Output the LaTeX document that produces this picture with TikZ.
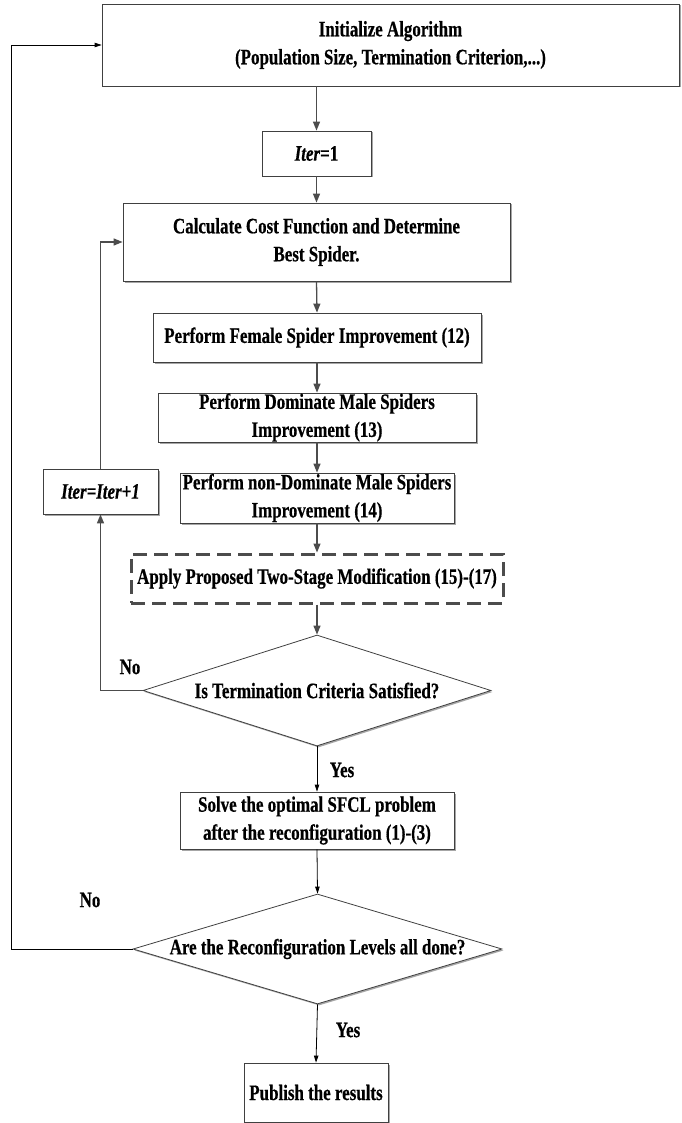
\documentclass[tikz,border=0pt]{standalone}
\usepackage{fontspec}
\setmainfont{Liberation Serif}[FakeStretch=0.77,BoldFeatures={FakeBold=0.5},BoldItalicFeatures={FakeBold=0.5}]
\usetikzlibrary{shapes.geometric,shadows,arrows.meta}
\tikzset{
  shad/.style={drop shadow={shadow xshift=1.5pt,shadow yshift=-1.5pt,fill=black!35,opacity=1}},
  txt/.style={font=\bfseries\fontsize{22}{28}\selectfont},
  box/.style={draw=black!75,line width=0.8pt,fill=white,shad,align=center,inner sep=0pt,txt},
  modbox/.style={draw=black!70,line width=3pt,dash pattern=on 14pt off 7pt,fill=white,
    align=center,inner sep=0pt,txt},
  dia/.style={diamond,draw=black!75,line width=0.8pt,fill=white,shad,align=center,inner sep=0pt,
    aspect=3.1,txt},
  garrow/.style={draw=black!70,line width=1.3pt,-{Triangle[length=9pt,width=7pt]}},
  barrow/.style={draw=black,line width=0.8pt,-{Triangle[length=7pt,width=4.5pt]}},
  lbl/.style={txt,inner sep=0pt}
}
\begin{document}
\begin{tikzpicture}[x=1pt,y=-1pt]
\useasboundingbox (0,0) rectangle (681,1123);
\node[box,minimum width=577pt,minimum height=82pt] (init) at (390.5,45)
  {Initialize Algorithm\\(Population Size, Termination Criterion,...)};
\node[box,minimum width=109pt,minimum height=45pt] (iter1) at (316.5,153.5)
  {\textit{Iter}=1};
\node[box,minimum width=387pt,minimum height=78pt] (calc) at (316.5,242)
  {Calculate Cost Function and Determine\\Best Spider.};
\node[box,minimum width=328pt,minimum height=49pt] (fem) at (317,337.5)
  {Perform Female Spider Improvement (12)};
\node[box,minimum width=318pt,minimum height=49pt] (dom) at (317,417.5)
  {Perform Dominate Male Spiders\\Improvement (13)};
\node[box,minimum width=274pt,minimum height=50pt] (nondom) at (317,498)
  {Perform non-Dominate Male Spiders\\Improvement (14)};
\node[modbox,minimum width=372pt,minimum height=49pt] (mod) at (317,578.5)
  {Apply Proposed Two-Stage Modification (15)-(17)};
\node[dia,minimum width=348pt,minimum height=111pt] (d1) at (317,690.5)
  {Is Termination Criteria Satisfied?};
\node[box,minimum width=115pt,minimum height=45pt] (inc) at (100.5,491.5)
  {\textit{Iter=Iter+1}};
\node[box,minimum width=274pt,minimum height=57pt] (solve) at (317,820.5)
  {Solve the optimal SFCL problem\\after the reconfiguration (1)-(3)};
\node[dia,aspect=3.35,minimum width=369pt,minimum height=110pt] (d2) at (317.5,949)
  {Are the Reconfiguration Levels all done?};
\node[box,minimum width=144pt,minimum height=59pt] (pub) at (316,1092.5)
  {Publish the results};
\node[lbl] (no1) at (130,667) {No};
\node[lbl] (yes1) at (342,770) {Yes};
\node[lbl] (no2) at (90,900) {No};
\node[lbl] (yes2) at (348,1030) {Yes};
\coordinate (c1) at (11,949);
\draw[garrow] (init.south -| iter1.north) -- (iter1.north);
\draw[garrow] (iter1.south) -- (calc.north);
\draw[garrow] (calc.south) -- (fem.north);
\draw[garrow] (fem.south) -- (dom.north);
\draw[garrow] (dom.south) -- (nondom.north);
\draw[garrow] (nondom.south) -- (mod.north);
\draw[garrow] (mod.south) -- (d1.north);
\draw[garrow] (d1.west) -| (inc.south);
\draw[garrow] (inc.north) |- (calc.west);
\draw[barrow] (d1.south) -- (solve.north);
\draw[barrow] (solve.south) -- (d2.north);
\draw[barrow] (d2.south) -- (pub.north);
\draw[barrow] (d2.west) -- (c1) |- (init.west);
\end{tikzpicture}
\end{document}
